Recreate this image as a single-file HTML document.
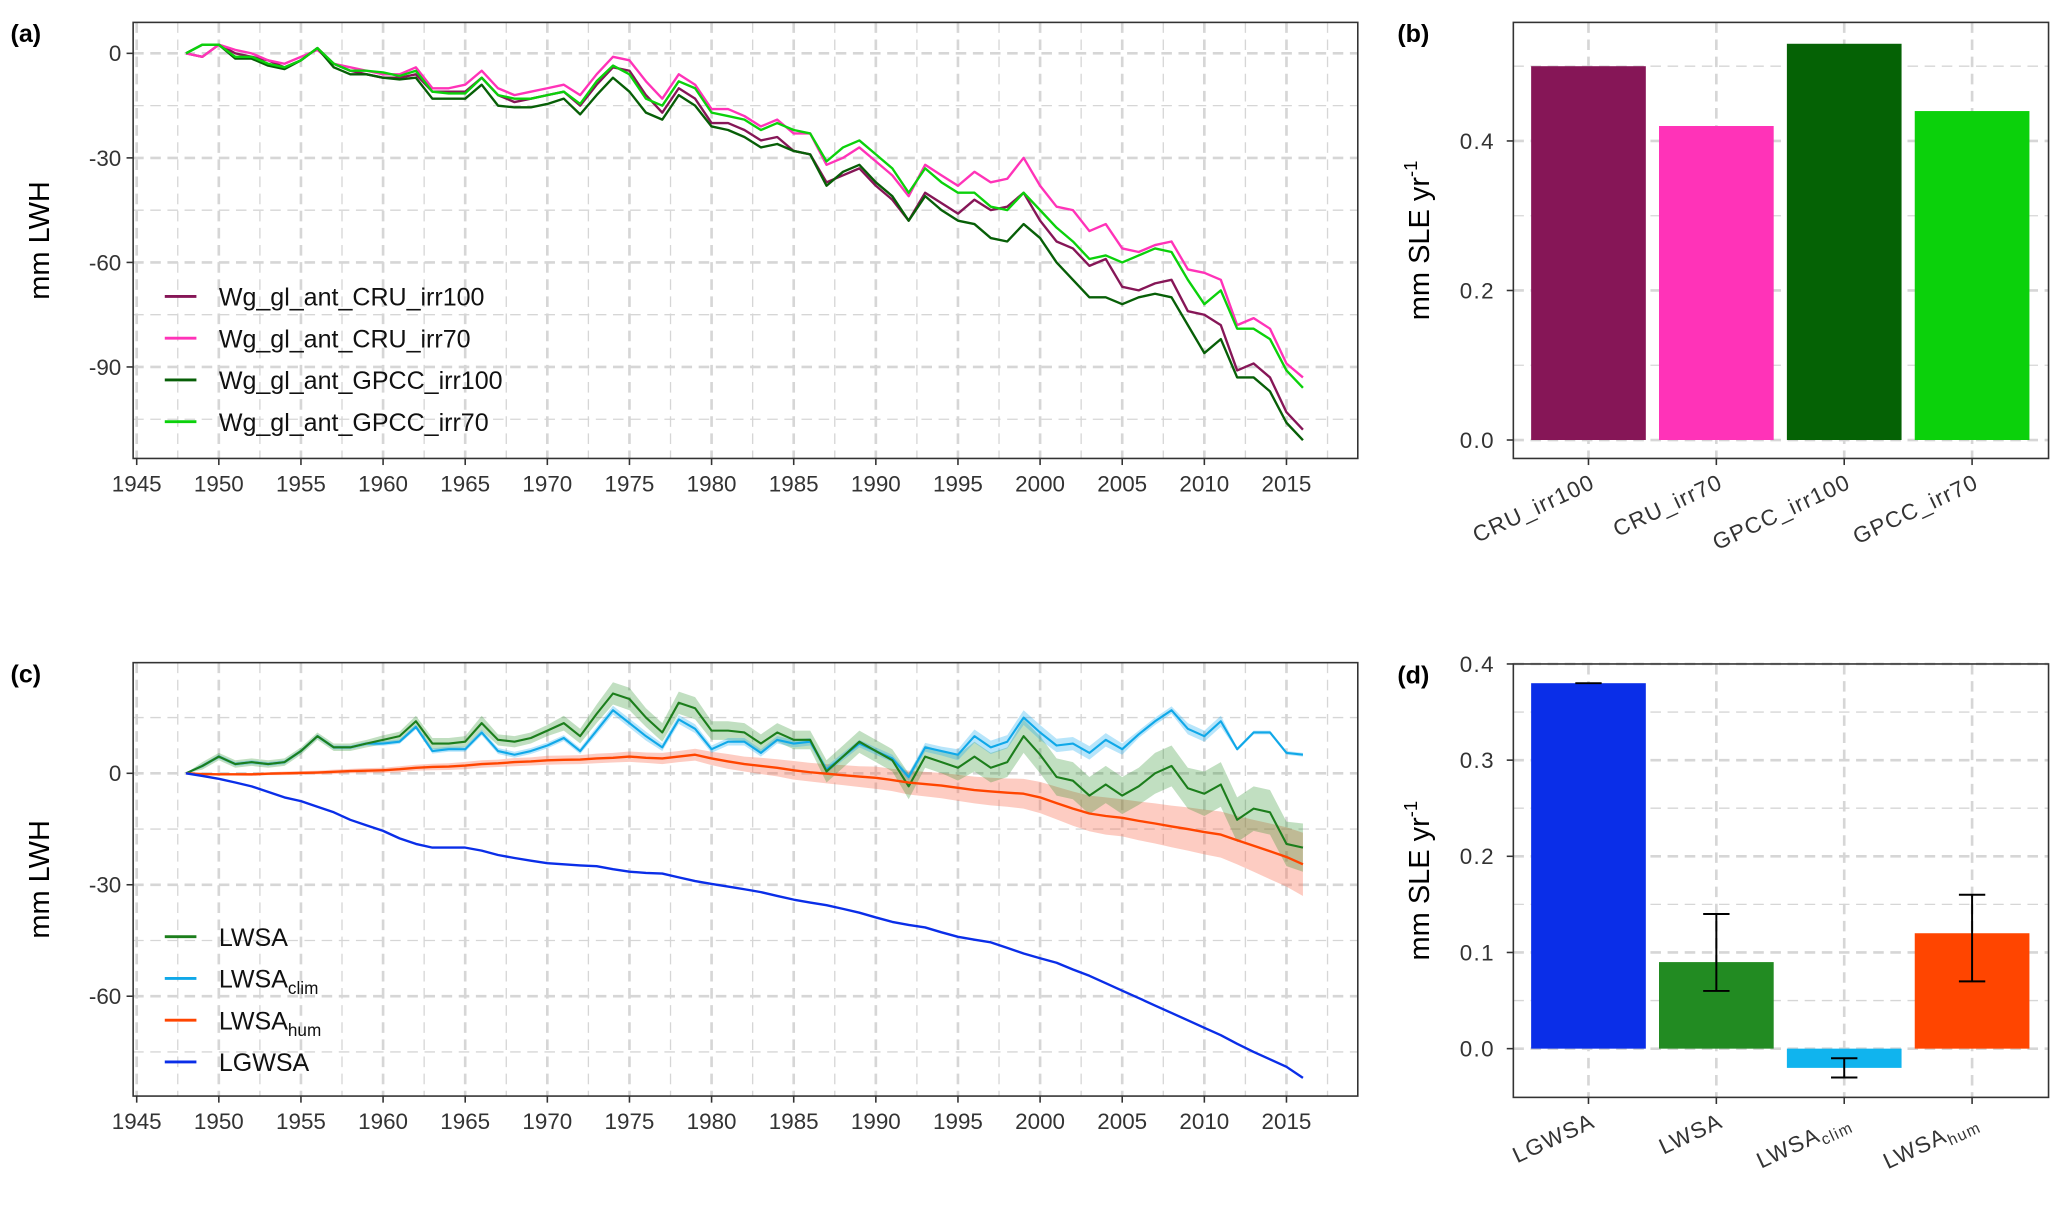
<!DOCTYPE html>
<html><head><meta charset="utf-8">
<style>
html,body{margin:0;padding:0;background:#fff;}
svg{display:block;font-family:"Liberation Sans",sans-serif;}
</style></head>
<body>
<svg id="fig" width="2067" height="1212" viewBox="0 0 1568 920" preserveAspectRatio="none" xmlns="http://www.w3.org/2000/svg"></svg>
<script>
// ---------- DATA ----------
const years = [];
for (let y = 1948; y <= 2016; y++) years.push(y);

const cruIrr100 = [0,-1,2.5,0,-1,-2,-4,-2,1.5,-3,-5,-6,-7,-7,-6,-11,-11,-11,-7,-12,-14,-13,-12,-11,-15,-9,-4,-5,-12,-17,-10,-13,-20,-20,-22,-25,-24,-28,-29,-37,-35,-33,-38,-42,-48,-40,-43,-46,-42,-45,-44,-40,-48,-54,-56,-61,-59,-67,-68,-66,-65,-74,-75,-78,-91,-89,-93,-103,-108];
const cruIrr70 = [0,-1,2.5,1,0,-2,-3,-1,1,-3,-4,-5,-6,-6,-4,-10,-10,-9,-5,-10,-12,-11,-10,-9,-12,-6,-1,-2,-8,-13,-6,-9,-16,-16,-18,-21,-19,-23,-23,-32,-30,-27,-31,-35,-41,-32,-35,-38,-34,-37,-36,-30,-38,-44,-45,-51,-49,-56,-57,-55,-54,-62,-63,-65,-78,-76,-79,-89,-93];
const gpccIrr100 = [0,2.5,2.5,-1.5,-1.5,-3.5,-4.5,-2,1.5,-4,-6,-6,-7,-7.5,-7,-13,-13,-13,-9,-15,-15.5,-15.5,-14.5,-13,-17.5,-12,-7,-11,-17,-19,-12,-15,-21,-22,-24,-27,-26,-28,-29,-38,-34,-32,-37,-41,-48,-41,-45,-48,-49,-53,-54,-49,-53,-60,-65,-70,-70,-72,-70,-69,-70,-78,-86,-82,-93,-93,-97,-106,-111];
const gpccIrr70 = [0,2.5,2.5,-1,-1,-3,-4,-2,1.5,-3,-5,-5,-5.5,-6.5,-5,-11,-11.5,-11.5,-7,-12,-13,-13,-12,-11,-14.5,-8,-3.5,-6,-13,-15,-8,-10,-17,-18,-19,-22,-20,-22,-23,-31,-27,-25,-29,-33,-40,-33,-37,-40,-40,-44,-45,-40,-45,-50,-54,-59,-58,-60,-58,-56,-57,-65,-72,-68,-79,-79,-82,-91,-96];

const lwsa = [0,2,4.5,2.5,3,2.5,3,6,10,7,7,8,9,10,14,8,8,8.5,13.5,9,8.5,9.5,11.5,13.5,10,16,21.5,20,15,11,19,17.5,11.5,11.5,11,8,11,9,9,0.5,4.5,8.5,6,3.5,-3.5,4.5,3,1.5,4.5,1.5,3,10,5,-1,-2,-6,-3,-6,-3.5,0,2,-4,-5.5,-3,-12.5,-9.5,-10.5,-19,-20];
const lwsaSpread = [0,1,1,1,1,1,1,1,1,1,1,1,1.2,1.2,1.5,1.5,1.5,1.5,2,1.5,1.5,1.5,1.5,2,2,2.5,3,3,2.5,2.5,3,3,2.5,2.5,2.5,2.5,2.5,2.5,2.5,3,3,3,3,3,3.5,3,3,3.5,4,4,4,4.5,5,5,5,5,5,5,5,5.5,5.5,5.5,6,6,6,6,6,6,6.5];
const lwsaClim = [0,2,4.5,2.5,3,2.5,3,6,10,7,7,8,8,8.5,12.5,6,6.5,6.5,11,6,5,6,7.5,9.5,6,11.5,17,13.5,10,7,14.5,12,6.5,8.5,8.5,5.5,9,8,8.5,1,4.5,8,6,4,-1,7,6,5,10,7,8.5,15,11,7.5,8,5.5,9,6.5,10.5,14,17,12,10,14,6.5,11,11,5.5,5];
const climSpread = [0,0.5,0.5,0.5,0.5,0.5,0.5,0.5,0.5,0.5,0.5,0.5,0.6,0.6,0.7,0.7,0.7,0.7,0.8,0.8,0.8,0.8,0.8,0.8,0.8,1,1.2,1.2,1.2,1,1.2,1.2,1,1,1,1,1,1,1,1,1,1,1,1,1,1.2,1.2,1.5,1.8,1.8,1.8,2,2,1.8,1.8,1.8,1.8,1.5,1,1,1,1.5,1.5,1.5,0.5,0.5,0.5,0.5,0.5];
const lwsaHum = [0,-0.2,-0.3,-0.3,-0.3,-0.1,0,0.1,0.2,0.4,0.6,0.7,0.8,1.1,1.5,1.7,1.8,2.1,2.5,2.7,3,3.2,3.5,3.6,3.7,4,4.2,4.5,4.2,4,4.5,5,4,3.2,2.5,2,1.5,0.8,0.3,-0.1,-0.5,-0.9,-1.2,-1.8,-2.5,-2.9,-3.3,-3.9,-4.5,-4.9,-5.2,-5.5,-6.5,-8,-9.5,-10.8,-11.5,-12,-12.8,-13.5,-14.3,-15,-15.8,-16.5,-18,-19.5,-21,-22.5,-24.5];
const humSpread = [0,0.3,0.3,0.3,0.4,0.4,0.5,0.5,0.5,0.6,0.6,0.7,0.7,0.8,0.8,0.9,0.9,1,1,1,1.1,1.1,1.2,1.2,1.2,1.3,1.3,1.4,1.4,1.5,1.5,1.6,1.8,2,2,2.2,2.3,2.5,2.5,2.6,2.7,2.8,3,3,3.2,3.3,3.4,3.5,3.6,3.7,3.8,4,4.2,4.4,4.6,4.8,5,5,5.2,5.4,5.6,5.8,6,6.2,6.5,7,7.5,8,8.5];
const lgwsa = [0,-0.7,-1.5,-2.5,-3.5,-5,-6.5,-7.5,-9,-10.5,-12.5,-14,-15.5,-17.5,-19,-20,-20,-20,-20.8,-22,-22.8,-23.5,-24.2,-24.5,-24.8,-25,-25.8,-26.5,-26.8,-27,-28,-29,-29.8,-30.5,-31.2,-32,-33,-34,-34.8,-35.5,-36.5,-37.5,-38.8,-40,-40.8,-41.5,-42.8,-44,-44.8,-45.5,-47,-48.5,-49.8,-51,-52.8,-54.5,-56.5,-58.5,-60.5,-62.5,-64.5,-66.5,-68.5,-70.5,-72.8,-75,-77,-79,-82];

const xTickLabels = ["1945","1950","1955","1960","1965","1970","1975","1980","1985","1990","1995","2000","2005","2010","2015"];
const aYTicks = [0,-30,-60,-90];
const cYTicks = [0,-30,-60];

const bCats = ["CRU_irr100","CRU_irr70","GPCC_irr100","GPCC_irr70"];
const bVals = [0.50,0.42,0.53,0.44];
const bYTicks = ["0.0","0.2","0.4"];

const dCats = ["LGWSA","LWSA","LWSA_clim","LWSA_hum"];
const dVals = [0.38,0.09,-0.02,0.12];
const dErrLo = [0.38,0.06,-0.03,0.07];
const dErrHi = [0.38,0.14,-0.01,0.16];
const dYTicks = ["0.0","0.1","0.2","0.3","0.4"];

// ---------- HELPERS ----------
const NS = "http://www.w3.org/2000/svg";
const svg = document.getElementById("fig");
function mk(tag, attrs, parent) {
  const e = document.createElementNS(NS, tag);
  for (const k in attrs) e.setAttribute(k, attrs[k]);
  (parent || svg).appendChild(e);
  return e;
}
const GRID = "#d6d6d6";
const PL = 101, PR = 1030;

const xT = yr => 103.7 + (yr - 1945) * 12.46;

function timePanel(name, top, bottom, y0px, pxPerUnit, yTicks, minorTicks, label) {
  const g = mk("g", {});
  
  
  const yS = v => y0px - v * pxPerUnit;
  for (let yr = 1947.5; yr < 2020; yr += 5) {
    const l = mk("line", {x1: xT(yr), x2: xT(yr), y1: top, y2: bottom, stroke: GRID, "stroke-width": 1, "stroke-dasharray": "8,5"}, g);
    
    
  }
  xTickLabels.forEach(t => {
    const l = mk("line", {x1: xT(+t), x2: xT(+t), y1: top, y2: bottom, stroke: GRID, "stroke-width": 2, "stroke-dasharray": "8,5"}, g);
    
    
  });
  minorTicks.forEach(v => {
    const l = mk("line", {x1: PL, x2: PR, y1: yS(v), y2: yS(v), stroke: GRID, "stroke-width": 1, "stroke-dasharray": "8,5"}, g);
    
    
  });
  yTicks.forEach(v => {
    const l = mk("line", {x1: PL, x2: PR, y1: yS(v), y2: yS(v), stroke: GRID, "stroke-width": 2, "stroke-dasharray": "8,5"}, g);
    
    
    const tk = mk("line", {x1: 96, x2: PL, y1: yS(v), y2: yS(v), stroke: "#333", "stroke-width": 1.2}, g);
    
    
    const t = mk("text", {x: 92, y: yS(v) + 6, "text-anchor": "end", "font-size": 17, fill: "#333"}, g);
    t.textContent = v;
    
    
  });
  xTickLabels.forEach(tl => {
    const x = xT(+tl);
    const tk = mk("line", {x1: x, x2: x, y1: bottom, y2: bottom + 5, stroke: "#333", "stroke-width": 1.2}, g);
    
    
    const t = mk("text", {x: x, y: bottom + 25, "text-anchor": "middle", "font-size": 17, fill: "#333"}, g);
    t.textContent = tl;
    
    
  });
  const fr = mk("rect", {x: PL, y: top, width: PR - PL, height: bottom - top, fill: "none", stroke: "#333", "stroke-width": 1.2}, g);
  
  
  const yt = mk("text", {x: 0, y: 0, "font-size": 22, fill: "#000", "text-anchor": "middle", transform: `translate(37,${(top + bottom) / 2}) rotate(-90)`}, g);
  yt.textContent = "mm LWH";
  
  
  const pl = mk("text", {x: 8, y: top + 15, "font-size": 19, "font-weight": "bold"}, g);
  pl.textContent = label;
  
  
  return {g, yS};
}
function line(g, vals, yS, color, name, w) {
  const d = vals.map((v, i) => (i ? "L" : "M") + xT(years[i]).toFixed(1) + "," + yS(v).toFixed(1)).join("");
  const p = mk("path", {d, fill: "none", stroke: color, "stroke-width": w || 1.8, "stroke-linejoin": "round"}, g);
  
  
}
function band(g, vals, spread, yS, color, name) {
  const up = vals.map((v, i) => xT(years[i]).toFixed(1) + "," + yS(v + spread[i]).toFixed(1));
  const lo = vals.map((v, i) => xT(years[i]).toFixed(1) + "," + yS(v - spread[i]).toFixed(1)).reverse();
  const p = mk("polygon", {points: up.concat(lo).join(" "), fill: color, stroke: "none"}, g);
  
  
}
function legend(g, items, y0) {
  items.forEach((it, i) => {
    const y = y0 + i * 31.7;
    const l = mk("line", {x1: 125, x2: 149, y1: y, y2: y, stroke: it.c, "stroke-width": 2.2}, g);
    
    
    const t = mk("text", {x: 166, y: y + 7, "font-size": 19, fill: "#111"}, g);
    
    
    t.textContent = it.t;
    if (it.sub) {
      const s = mk("tspan", {"font-size": 13, dy: 5}, t);
      s.textContent = it.sub;
    }
  });
}

// ---------- PANEL A ----------
const A = timePanel("panel-a", 17, 348, 40.5, 2.645, aYTicks, [-15,-45,-75,-105], "(a)");
line(A.g, cruIrr100, A.yS, "#861657", "line-cru-irr100");
line(A.g, cruIrr70, A.yS, "#ff33b8", "line-cru-irr70");
line(A.g, gpccIrr100, A.yS, "#075f07", "line-gpcc-irr100");
line(A.g, gpccIrr70, A.yS, "#0bd10b", "line-gpcc-irr70");
legend(A.g, [{t:"Wg_gl_ant_CRU_irr100",c:"#861657"},{t:"Wg_gl_ant_CRU_irr70",c:"#ff33b8"},{t:"Wg_gl_ant_GPCC_irr100",c:"#075f07"},{t:"Wg_gl_ant_GPCC_irr70",c:"#0bd10b"}], 225);

// ---------- PANEL C ----------
const C = timePanel("panel-c", 503, 832, 587, 2.82, cYTicks, [15,-15,-45,-75], "(c)");
band(C.g, lwsaHum, humSpread, C.yS, "rgba(250,110,80,0.35)", "band-lwsa-hum");
band(C.g, lwsa, lwsaSpread, C.yS, "rgba(34,139,34,0.28)", "band-lwsa");
band(C.g, lwsaClim, climSpread, C.yS, "rgba(20,170,240,0.3)", "band-lwsa-clim");
line(C.g, lwsaClim, C.yS, "#10a8e8", "line-lwsa-clim", 1.6);
line(C.g, lwsa, C.yS, "#1c7e1c", "line-lwsa", 1.6);
line(C.g, lwsaHum, C.yS, "#ff4500", "line-lwsa-hum", 1.8);
line(C.g, lgwsa, C.yS, "#0a2ee8", "line-lgwsa", 1.8);
legend(C.g, [{t:"LWSA",c:"#1c7e1c"},{t:"LWSA",sub:"clim",c:"#10a8e8"},{t:"LWSA",sub:"hum",c:"#ff4500"},{t:"LGWSA",c:"#0a2ee8"}], 711);

// ---------- BAR PANELS ----------
const BL = 1148, BR = 1554;
function barPanel(name, top, bottom, y0px, pxPerUnit, ticks, minor, cats, vals, colors, label, lo, hi, subs) {
  const g = mk("g", {});
  
  
  const yS = v => y0px - v * pxPerUnit;
  const xC = i => 1205 + i * 97;
  minor.forEach(v => {
    const l = mk("line", {x1: BL, x2: BR, y1: yS(v), y2: yS(v), stroke: GRID, "stroke-width": 1, "stroke-dasharray": "8,5"}, g);
    
    
  });
  ticks.forEach(t => {
    const v = +t;
    const l = mk("line", {x1: BL, x2: BR, y1: yS(v), y2: yS(v), stroke: GRID, "stroke-width": 2, "stroke-dasharray": "8,5"}, g);
    
    
    const tk = mk("line", {x1: BL - 5, x2: BL, y1: yS(v), y2: yS(v), stroke: "#333", "stroke-width": 1.2}, g);
    
    
    const tx = mk("text", {x: 1134, y: yS(v) + 6, "text-anchor": "end", "font-size": 17, fill: "#333", "letter-spacing": "1"}, g);
    tx.textContent = t;
    
    
  });
  cats.forEach((c, i) => {
    const l = mk("line", {x1: xC(i), x2: xC(i), y1: top, y2: bottom, stroke: GRID, "stroke-width": 2, "stroke-dasharray": "8,5"}, g);
    
    
  });
  cats.forEach((c, i) => {
    const v = vals[i];
    const r = mk("rect", {x: xC(i) - 43.5, y: Math.min(yS(v), yS(0)), width: 87, height: Math.abs(yS(v) - yS(0)), fill: colors[i]}, g);
    
    
    if (lo) {
      const x = xC(i);
      const e = mk("path", {d: `M${x-10},${yS(hi[i])}H${x+10}M${x},${yS(hi[i])}V${yS(lo[i])}M${x-10},${yS(lo[i])}H${x+10}`, stroke: "#000", "stroke-width": 1.5, fill: "none"}, g);
      
      
    }
    const tk = mk("line", {x1: xC(i), x2: xC(i), y1: bottom, y2: bottom + 5, stroke: "#333", "stroke-width": 1.2}, g);
    
    
    const t = mk("text", {x: 0, y: 0, "text-anchor": "end", "font-size": 17, fill: "#333", "letter-spacing": "1", transform: `translate(${xC(i)+6},${bottom + 22}) rotate(-25)`}, g);
    
    
    if (subs && c.indexOf("_") > 0) {
      t.textContent = c.split("_")[0];
      const s = mk("tspan", {"font-size": 12, dy: 4}, t);
      s.textContent = c.split("_")[1];
    } else t.textContent = c;
  });
  const fr = mk("rect", {x: BL, y: top, width: BR - BL, height: bottom - top, fill: "none", stroke: "#333", "stroke-width": 1.2}, g);
  
  
  const yt = mk("text", {x: 0, y: 0, "font-size": 22, fill: "#000", "text-anchor": "middle", transform: `translate(1084,${(top + bottom) / 2}) rotate(-90)`}, g);
  
  
  yt.textContent = "mm SLE yr";
  const sp = mk("tspan", {"font-size": 14, dy: -9}, yt);
  sp.textContent = "-1";
  const pl = mk("text", {x: 1060, y: top + 15, "font-size": 19, "font-weight": "bold"}, g);
  pl.textContent = label;
  
  
}
barPanel("panel-b", 17, 348, 334, 567.5, bYTicks, [0.1,0.3,0.5], bCats, bVals, ["#861657","#ff33b8","#056205","#0bd10b"], "(b)");
barPanel("panel-d", 504, 833, 796, 730, dYTicks, [0.05,0.15,0.25,0.35], dCats, dVals, ["#0a2ee8","#228b22","#10b4ee","#ff4500"], "(d)", dErrLo, dErrHi, true);
</script>
</body></html>
